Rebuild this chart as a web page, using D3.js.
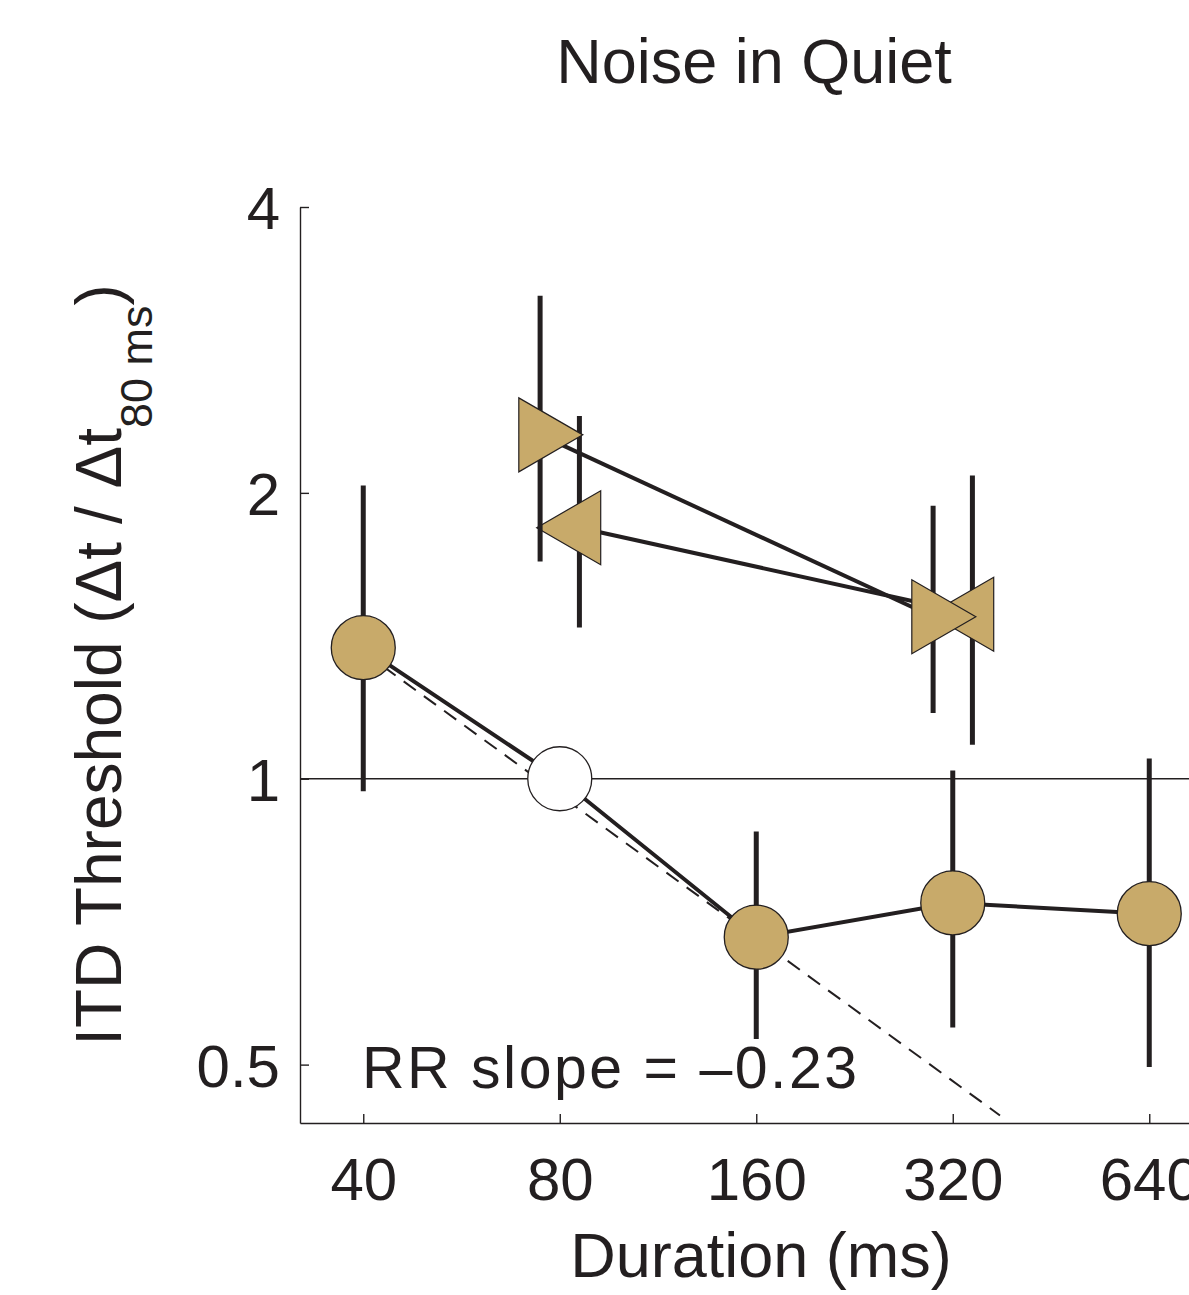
<html>
<head>
<meta charset="utf-8" />
<script src="https://d3js.org/d3.v7.min.js"></script>
<style>
  body { margin: 0; background: #fff; }
  text { font-family: "Liberation Sans", Arial, Helvetica, sans-serif; fill: #231f20; }
</style>
</head>
<body>
<div class="container"></div>
<script>
  // durations (ms) and normalised thresholds
  const durations = [40, 80, 160, 320, 640];
  const circleMean = [1.374, 1.0, 0.681, 0.74, 0.721];
  const circleLo = [0.97, null, 0.532, 0.547, 0.497];
  const circleHi = [2.036, null, 0.88, 1.02, 1.05];

  const triDurations = [80, 320];
  const rightMean = [2.302, 1.481];
  const rightLo = [1.693, 1.173];
  const rightHi = [3.226, 1.938];
  const leftMean = [1.838, 1.49];
  const leftLo = [1.443, 1.086];
  const leftHi = [2.41, 2.086];

  // slope -0.5 reference (dashed)
  const slopeLine = [[40, 1.36], [378, 0.442]];

  const yTicks = [0.5, 1, 2, 4];
  const xTicks = [40, 80, 160, 320, 640];

  const width = 1189, height = 1295;
  const ink = "#231f20", tan = "#c8aa6a";

  const x = d3.scaleLog().base(2).domain([32, 800]).range([300, 300 + 196.5 * Math.log2(25)]);
  const y = d3.scaleLog().base(2).domain([0.434, 4]).range([1123, 207]);
  const jitter = 0.1; // octave offset of the two triangle series

  const svg = d3.select(".container").append("svg")
    .attr("width", width).attr("height", height)
    .attr("viewBox", [0, 0, width, height]);

  // axes
  const xAxis = svg.append("g")
    .attr("transform", `translate(0,${y.range()[0]})`)
    .call(d3.axisBottom(x).tickValues(xTicks).tickSizeInner(-9).tickSizeOuter(0).tickFormat(d3.format("d")));
  xAxis.select(".domain").attr("stroke", ink).attr("stroke-width", 1.4);
  xAxis.selectAll(".tick line").attr("stroke", ink).attr("stroke-width", 1.4);
  xAxis.selectAll(".tick text").attr("y", 77).attr("dy", 0)
    .attr("font-size", 60).attr("fill", ink)
    .style("font-family", '"Liberation Sans", Arial, sans-serif');

  const yAxis = svg.append("g")
    .attr("transform", `translate(${x.range()[0]},0)`)
    .call(d3.axisLeft(y).tickValues(yTicks).tickSizeInner(-9).tickSizeOuter(0).tickPadding(20).tickFormat(d3.format("")));
  yAxis.select(".domain").attr("stroke", ink).attr("stroke-width", 1.4);
  yAxis.selectAll(".tick line").attr("stroke", ink).attr("stroke-width", 1.4);
  yAxis.selectAll(".tick text").attr("dy", "0.36em")
    .attr("font-size", 60).attr("fill", ink)
    .style("font-family", '"Liberation Sans", Arial, sans-serif');

  // reference line at 1
  svg.append("line")
    .attr("x1", x.range()[0]).attr("x2", width)
    .attr("y1", y(1)).attr("y2", y(1))
    .attr("stroke", ink).attr("stroke-width", 1.3);

  const line = d3.line().x((d) => x(d[0])).y((d) => y(d[1]));

  svg.append("path")
    .attr("d", line(slopeLine))
    .attr("fill", "none").attr("stroke", ink)
    .attr("stroke-width", 2).attr("stroke-dasharray", "15,10");

  function series(xs, mean, lo, hi, marker, shift) {
    const px = (d) => x(d * Math.pow(2, shift));
    const pts = xs.map((d, i) => ({ d, m: mean[i], lo: lo[i], hi: hi[i], i }));
    const g = svg.append("g");
    g.append("path")
      .attr("d", d3.line().x((p) => px(p.d)).y((p) => y(p.m))(pts))
      .attr("fill", "none").attr("stroke", ink).attr("stroke-width", 4);
    g.selectAll(".bar").data(pts.filter((p) => p.lo != null)).join("line")
      .attr("x1", (p) => px(p.d)).attr("x2", (p) => px(p.d))
      .attr("y1", (p) => y(p.hi)).attr("y2", (p) => y(p.lo))
      .attr("stroke", ink).attr("stroke-width", 5);
    const m = g.selectAll(".mk").data(pts).join("g")
      .attr("transform", (p) => `translate(${px(p.d)},${y(p.m)})`);
    if (marker === "circle") {
      m.append("circle").attr("r", 32)
        .attr("fill", (p) => (p.d === 80 ? "#fff" : tan))
        .attr("stroke", ink).attr("stroke-width", 1.3);
    } else {
      const s = marker === "right" ? 1 : -1;
      m.append("path")
        .attr("d", `M${-21.3 * s},-37L${-21.3 * s},37L${42.7 * s},0Z`)
        .attr("fill", tan).attr("stroke", ink).attr("stroke-width", 1.2)
        .attr("stroke-linejoin", "miter");
    }
  }

  series(durations, circleMean, circleLo, circleHi, "circle", 0);
  series(triDurations, leftMean, leftLo, leftHi, "left", jitter);
  series(triDurations, rightMean, rightLo, rightHi, "right", -jitter);

  // texts
  svg.append("text")
    .attr("x", 754).attr("y", 83)
    .attr("text-anchor", "middle").attr("font-size", 63)
    .text("Noise in Quiet");

  svg.append("text")
    .attr("x", 761).attr("y", 1277)
    .attr("text-anchor", "middle").attr("font-size", 63)
    .text("Duration (ms)");

  svg.append("text")
    .attr("x", 362).attr("y", 1088)
    .attr("font-size", 59).attr("letter-spacing", 2.5)
    .text("RR slope = \u20130.23");

  const yl = svg.append("text")
    .attr("transform", "translate(121,665) rotate(-90)")
    .attr("text-anchor", "middle").attr("font-size", 64);
  yl.append("tspan").text("ITD Threshold (\u0394t / \u0394t");
  yl.append("tspan").attr("font-size", 45).attr("dy", 31).text("80 ms");
  yl.append("tspan").attr("dy", -31).text(")");
</script>
</body>
</html>
